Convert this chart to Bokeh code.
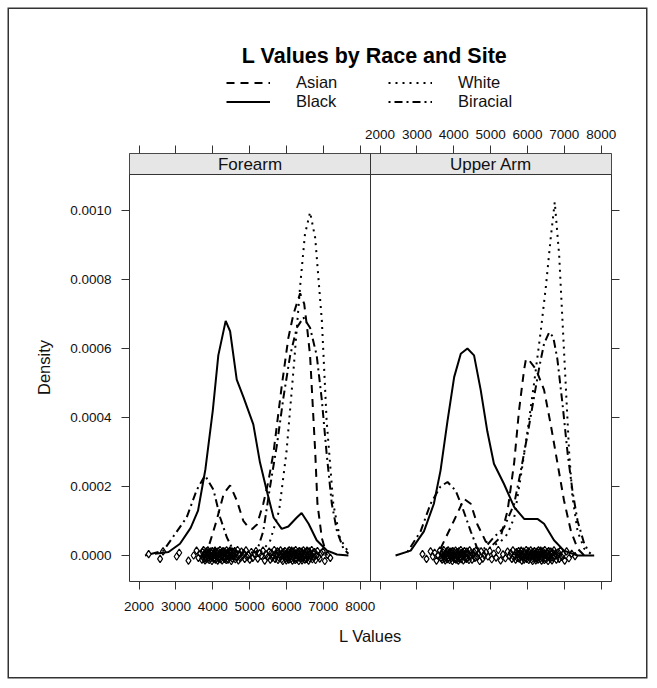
from bokeh.plotting import figure
from bokeh.layouts import column
from bokeh.models import (Range1d, LinearAxis, FixedTicker, Span, Legend, LegendItem,
                          ColumnDataSource, Label)
from bokeh.embed import file_html
from bokeh.resources import INLINE

FONT = "Liberation Sans"
NAN = float("nan")

# ---------------- data ----------------
SITES = ["Forearm", "Upper Arm"]
RACES = ["Asian", "Black", "White", "Biracial"]
X_TICKS = [2000, 3000, 4000, 5000, 6000, 7000, 8000]
Y_TICKS = [0.0, 0.0002, 0.0004, 0.0006, 0.0008, 0.0010]
Y_TICK_LABELS = ["0.0000", "0.0002", "0.0004", "0.0006", "0.0008", "0.0010"]

# Forearm density curves
FA_ASIAN_X = [3700, 3900, 4100, 4300, 4470, 4650, 4830, 4980, 5070, 5200, 5370, 5500, 5650, 5870,
              6050, 6190, 6370, 6480, 6560, 6640, 6710, 6780, 6840, 6960, 7100]
FA_ASIAN_Y = [0.0, 0.00003, 0.0001, 0.00018, 0.000203, 0.00016, 0.0001, 0.00008, 0.000077, 0.00009,
              0.00015, 0.00021, 0.0003, 0.00049, 0.00063, 0.0007, 0.00076, 0.00073, 0.00066, 0.00058,
              0.00044, 0.0003, 0.00015, 0.00005, 0.0]
FA_BLACK_X = [2430, 2800, 3110, 3400, 3600, 3800, 4000, 4150, 4350, 4470, 4650, 4830, 5100, 5280,
              5460, 5650, 5870, 6050, 6280, 6410, 6600, 6820, 7090, 7370, 7680]
FA_BLACK_Y = [0.000005, 0.00001, 0.000034, 0.00008, 0.00013, 0.00025, 0.00042, 0.00058, 0.00068,
              0.00065, 0.00051, 0.00046, 0.00038, 0.00027, 0.00019, 0.00011, 0.000077, 0.000084,
              0.00011, 0.000123, 0.000092, 0.000044, 0.000015, 0.000003, 0.0]
FA_WHITE_X = [5300, 5550, 5800, 6000, 6200, 6370, 6500, 6640, 6780, 6960, 7090, 7270, 7450, 7680]
FA_WHITE_Y = [0.00001, 0.00004, 0.00013, 0.0003, 0.00055, 0.00078, 0.00093, 0.000995, 0.00092,
              0.00068, 0.00039, 0.00015, 0.00005, 0.00001]
FA_BIRACIAL_X = [2160, 2660, 3290, 3565, 3790, 4020, 4200, 4380, 4560, 4900, 5190, 5370, 5555, 5740,
                 5920, 6100, 6280, 6460, 6640, 6820, 6960, 7090, 7230, 7370, 7545, 7680]
FA_BIRACIAL_Y = [0.0, 0.000014, 0.00011, 0.00019, 0.000232, 0.00019, 0.00011, 0.000053, 0.000014,
                 0.000008, 0.00001, 0.00007, 0.0002, 0.00032, 0.00046, 0.00058, 0.00066, 0.00069,
                 0.00066, 0.00058, 0.00045, 0.000295, 0.00015, 0.00007, 0.00002, 0.000005]

# Upper arm density curves
UA_ASIAN_X = [3640, 4000, 4280, 4460, 4640, 4870, 5050, 5270, 5460, 5640, 5770, 5910, 5960, 6050,
              6230, 6450, 6630, 6810, 6990, 7180, 7360, 7540]
UA_ASIAN_Y = [0.00002, 0.0001, 0.000164, 0.00015, 0.00009, 0.00004, 0.00003, 0.000053, 0.00013,
              0.00027, 0.00042, 0.00054, 0.00057, 0.000565, 0.00054, 0.00048, 0.00038, 0.00027,
              0.00016, 0.00007, 0.00002, 0.0]
UA_BLACK_X = [2420, 2830, 3190, 3460, 3640, 3830, 4010, 4190, 4370, 4550, 4730, 4910, 5090, 5360,
              5640, 5910, 6270, 6450, 6720, 6990, 7360, 7810]
UA_BLACK_Y = [0.0, 0.000014, 0.00007, 0.00015, 0.000246, 0.00039, 0.000517, 0.000585, 0.0006,
              0.00058, 0.00048, 0.00036, 0.000266, 0.000208, 0.00014, 0.000106, 0.000106, 0.000092,
              0.000044, 0.000014, 0.0, 0.0]
UA_WHITE_X = [4800, 5000, 5270, 5460, 5640, 5820, 6000, 6180, 6360, 6500, 6630, 6740, 6860, 6950,
              7040, 7130, 7220, 7360, 7540, 7720]
UA_WHITE_Y = [0.00001, 0.000024, 0.00004, 0.000063, 0.00011, 0.00023, 0.00036, 0.0005, 0.00065,
              0.00078, 0.00092, 0.001024, 0.00087, 0.00068, 0.00049, 0.0003, 0.00017, 0.00007,
              0.00002, 0.000005]
UA_BIRACIAL_X = [2740, 3100, 3370, 3640, 3830, 4050, 4230, 4460, 4640, 4820, 5090, 5360, 5640,
                 5820, 6000, 6180, 6320, 6450, 6590, 6700, 6810, 6950, 7090, 7220, 7360, 7540, 7670]
UA_BIRACIAL_Y = [0.00001, 0.00007, 0.00015, 0.0002, 0.000213, 0.000188, 0.00014, 0.00007, 0.00002,
                 0.00002, 0.000053, 0.00008, 0.00015, 0.000246, 0.00035, 0.00046, 0.000546,
                 0.000614, 0.000647, 0.000633, 0.00057, 0.00044, 0.000295, 0.000188, 0.0001,
                 0.000034, 0.00001]

# raw L values shown as points along the baseline
FA_RUG_X = [2260, 2570, 2650, 3020, 3090, 3340, 3480, 3560, 3610, 3660,
            3705, 3722, 3731, 3748, 3760, 3771, 3789, 3798, 3812, 3827, 3835, 3851, 3866, 3874,
            3889, 3902, 3911, 3925, 3940, 3948, 3963, 3977, 3986, 4001, 4013, 4024, 4038, 4049,
            4061, 4073, 4085, 4097, 4108, 4122, 4133, 4146, 4157, 4169, 4182, 4194, 4205, 4219,
            4230, 4242, 4255, 4266, 4279, 4291, 4302, 4316, 4327, 4339, 4352, 4364, 4375, 4389,
            4400, 4413, 4425, 4438, 4450, 4463, 4476, 4489, 4503, 4517, 4530, 4546, 4561, 4577,
            4594, 4612, 4630, 4651, 4672, 4695,
            4720, 4748, 4779, 4805, 4838, 4866, 4901, 4933, 4970, 5004, 5047, 5085, 5130, 5172,
            5221, 5268, 5316, 5362, 5410, 5455, 5498,
            5530, 5561, 5590, 5617, 5642, 5668, 5690, 5712, 5733, 5752, 5770, 5789, 5806, 5822,
            5839, 5854, 5870, 5885, 5899, 5914, 5928, 5941, 5956, 5969, 5983, 5996, 6010, 6023,
            6036, 6049, 6061, 6074, 6087, 6099, 6112, 6124, 6137, 6149, 6161, 6174, 6186, 6198,
            6211, 6223, 6235, 6248, 6260, 6272, 6285, 6297, 6309, 6322, 6334, 6346, 6359, 6371,
            6384, 6396, 6409, 6421, 6434, 6447, 6460, 6473, 6486, 6500, 6513, 6527, 6541, 6556,
            6570, 6585, 6600, 6616, 6632, 6649, 6666, 6684, 6703, 6722, 6743, 6765, 6788, 6813,
            6840, 6870, 6903, 6940, 6985, 7040, 7110, 7190]
UA_RUG_X = [3150, 3260, 3370, 3430, 3480, 3530, 3580, 3620,
            3652, 3668, 3683, 3697, 3712, 3726, 3741, 3755, 3768, 3782, 3795, 3809, 3822, 3835,
            3847, 3860, 3873, 3886, 3898, 3911, 3923, 3936, 3948, 3961, 3973, 3986, 3998, 4011,
            4023, 4036, 4048, 4061, 4073, 4086, 4098, 4111, 4124, 4137, 4150, 4163, 4176, 4190,
            4203, 4217, 4231, 4245, 4260, 4275, 4290, 4306, 4322, 4338, 4355, 4373, 4391, 4410,
            4430, 4451, 4473, 4496, 4520, 4546, 4573, 4602, 4633, 4667,
            4703, 4742, 4785, 4829, 4876, 4925, 4977, 5031, 5088, 5147, 5208, 5271, 5335, 5400,
            5460,
            5512, 5545, 5576, 5604, 5630, 5655, 5678, 5700, 5721, 5741, 5760, 5778, 5796, 5813,
            5830, 5846, 5862, 5878, 5893, 5908, 5923, 5938, 5952, 5966, 5980, 5994, 6008, 6021,
            6035, 6048, 6061, 6074, 6087, 6100, 6113, 6126, 6138, 6151, 6163, 6176, 6188, 6200,
            6213, 6225, 6237, 6249, 6261, 6273, 6286, 6298, 6310, 6322, 6334, 6346, 6358, 6370,
            6382, 6395, 6407, 6419, 6431, 6444, 6456, 6469, 6481, 6494, 6507, 6520, 6533, 6546,
            6560, 6574, 6588, 6603, 6618, 6633, 6649, 6666, 6683, 6701, 6720, 6740, 6761, 6784,
            6808, 6834, 6862, 6893, 6927, 6966, 7010, 7062, 7125, 7200, 7290]
# vertical jitter of the baseline points (units of 1e-6 density)
RUG_JITTER = [4, -10, 12, -3, 8, -15, 0, 14, -7, 5, -12, 10, -2, 16, -9, 3, -14, 7, -5, 12,
              -11, 1, 15, -6, 9, -13, 4, -1, 11, -8, 6, -16, 13, -4, 2, -10, 8, -7, 14, -12,
              0, 10, -3, 6, -15, 12, -9, 3, -5, 16, -11, 7, -2, 9, -14, 1, 13, -6, 5, -10,
              11, -8, 4, -13, 15, -1, 8, -12, 2, 10, -7, 14, -4, 6, -16, 12, -9, 0, 9, -3,
              13, -11, 5, -6, 16, -14, 3, -8, 11, -2, 7, -10, 15, -5, 1, -12, 10, -7, 4, 13,
              -9, 6, -1, 14, -15, 3, -4, 11, -12, 8, -6, 0, 16, -10, 5, -2, 12, -13, 9, -8,
              2, 15, -3, -11, 7, -16, 10, 1, -5, 13, -9, 4, -14, 6, -7, 11, 0, -12, 15, -4,
              8, -1, -10, 14, 3, -15, 9, -6, 12, -2, 5, -13, 16, -8, 1, -11, 7, 10, -3, -16,
              13, -5, 2, -9, 11, 4, -14, 8, -7, 15, -1, 6, -12, 0, 9, -10, 14, -4, 3, -15,
              12, -8, 5, -2, 16, -11, 7, -6, 10, -13, 1, 13, -3, -9, 6, 11, -16, 2, -7, 8]

CURVES = {
    "Forearm": {"Asian": (FA_ASIAN_X, FA_ASIAN_Y), "Black": (FA_BLACK_X, FA_BLACK_Y),
                "White": (FA_WHITE_X, FA_WHITE_Y), "Biracial": (FA_BIRACIAL_X, FA_BIRACIAL_Y)},
    "Upper Arm": {"Asian": (UA_ASIAN_X, UA_ASIAN_Y), "Black": (UA_BLACK_X, UA_BLACK_Y),
                  "White": (UA_WHITE_X, UA_WHITE_Y), "Biracial": (UA_BIRACIAL_X, UA_BIRACIAL_Y)},
}
RUGS = {"Forearm": FA_RUG_X, "Upper Arm": UA_RUG_X}
DASH = {"Asian": "8 6", "Black": "solid", "White": "2 5", "Biracial": "2 4 8 4"}

# ---------------- layout ----------------
W = 637
H_HEAD = 109
H_MAIN = 559
B_LEFT, B_RIGHT, B_TOP, B_BOTTOM = 120, 35, 35, 96
FW, FH = W - B_LEFT - B_RIGHT, H_MAIN - B_TOP - B_BOTTOM
X_MIN, X_MAX = 1740, 8280
SPAN = X_MAX - X_MIN
Y_MIN, Y_PANEL_TOP, Y_MAX = -0.0000754, 0.0011043, 0.0011652

# ---------- header: title + legend (its frame is aligned with the panel frame) ----------
head = figure(width=W, height=H_HEAD, output_backend="svg", toolbar_location=None,
              x_range=Range1d(0, FW), y_range=Range1d(0, H_HEAD),
              x_axis_location=None, y_axis_location=None,
              min_border_left=B_LEFT, min_border_right=B_RIGHT,
              min_border_top=0, min_border_bottom=0)
head.grid.visible = False
head.outline_line_color = None
head.background_fill_color = "white"
head.border_fill_color = "white"

head.add_layout(Label(x=245, y=H_HEAD - 46, text="L Values by Race and Site",
                      text_align="center", text_baseline="middle", text_font=FONT,
                      text_font_size="21.5px", text_font_style="bold", text_color="black"))

key_renderers = {}
for race in RACES:
    key_renderers[race] = head.line(x=[NAN], y=[NAN], line_color="black", line_width=2,
                                    line_dash=DASH[race])


def make_legend(items, x, y):
    lg = Legend(items=[LegendItem(label=r, renderers=[key_renderers[r]]) for r in items],
                location=(x, y), orientation="vertical",
                glyph_width=44, glyph_height=17, label_standoff=26,
                label_text_font=FONT, label_text_font_size="16.5px", label_text_color="#111111",
                label_height=17, spacing=0, padding=0, margin=0, border_line_color=None,
                background_fill_color=None, background_fill_alpha=0)
    head.add_layout(lg, "center")


make_legend(["Asian", "Black"], 97, 7)
make_legend(["White", "Biracial"], 259, 7)

# ---------- main lattice panels ----------
p = figure(width=W, height=H_MAIN, output_backend="svg", toolbar_location=None,
           x_range=Range1d(X_MIN, X_MIN + 2 * SPAN), y_range=Range1d(Y_MIN, Y_MAX),
           x_axis_location=None, y_axis_location=None,
           min_border_left=B_LEFT, min_border_right=B_RIGHT,
           min_border_top=B_TOP, min_border_bottom=B_BOTTOM)
p.grid.visible = False
p.outline_line_color = "#333333"
p.outline_line_width = 1
p.background_fill_color = "white"
p.border_fill_color = "white"

all_x_ticks = X_TICKS + [t + SPAN for t in X_TICKS]


def style_axis(ax):
    ax.axis_line_color = None
    ax.major_tick_out = 8
    ax.major_tick_in = 0
    ax.minor_tick_out = 0
    ax.minor_tick_in = 0
    ax.major_tick_line_color = "#333333"
    ax.major_label_text_font = FONT
    ax.major_label_text_font_size = "13.5px"
    ax.major_label_text_color = "#111111"
    ax.axis_label_text_font = FONT
    ax.axis_label_text_font_size = "16.5px"
    ax.axis_label_text_font_style = "normal"
    ax.axis_label_text_color = "#111111"


bottom = LinearAxis(ticker=FixedTicker(ticks=all_x_ticks), axis_label="L Values")
style_axis(bottom)
bottom.major_label_standoff = 12
bottom.axis_label_standoff = 13
bottom.major_label_overrides = {**{t: str(t) for t in X_TICKS}, **{t + SPAN: "" for t in X_TICKS}}
p.add_layout(bottom, "below")

top = LinearAxis(ticker=FixedTicker(ticks=all_x_ticks))
style_axis(top)
top.major_label_standoff = 7
top.major_label_overrides = {**{t: "" for t in X_TICKS}, **{t + SPAN: str(t) for t in X_TICKS}}
p.add_layout(top, "above")

left = LinearAxis(ticker=FixedTicker(ticks=Y_TICKS), axis_label="Density")
style_axis(left)
left.major_label_standoff = 10
left.axis_label_standoff = 14
left.major_label_overrides = dict(zip(Y_TICKS, Y_TICK_LABELS))
p.add_layout(left, "left")

right = LinearAxis(ticker=FixedTicker(ticks=Y_TICKS))
style_axis(right)
right.major_label_overrides = {t: "" for t in Y_TICKS}
right.major_label_text_font_size = "0px"
right.major_label_standoff = 0
p.add_layout(right, "right")

# strips
strip_src = ColumnDataSource(dict(
    left=[X_MIN + i * SPAN for i in range(len(SITES))],
    right=[X_MAX + i * SPAN for i in range(len(SITES))],
    bottom=[Y_PANEL_TOP] * len(SITES), top=[Y_MAX] * len(SITES),
    cx=[X_MIN + SPAN / 2 + i * SPAN for i in range(len(SITES))],
    cy=[(Y_PANEL_TOP + Y_MAX) / 2] * len(SITES), label=SITES))
p.quad(left="left", right="right", bottom="bottom", top="top", source=strip_src,
       fill_color="#e6e6e6", line_color="#333333", line_width=1)
p.text(x="cx", y="cy", text="label", source=strip_src, text_align="center",
       text_baseline="middle", text_font={"value": FONT}, text_font_size={"value": "17px"},
       text_color="#111111")

# panel divider
p.add_layout(Span(location=X_MAX, dimension="height", line_color="#333333", line_width=1))

for i, site in enumerate(SITES):
    off = i * SPAN
    for race in RACES:
        xs, ys = CURVES[site][race]
        p.line([x + off for x in xs], ys, line_color="black", line_width=2,
               line_dash=DASH[race])
    rx = RUGS[site]
    p.scatter([x + off for x in rx], [j * 1e-6 for j in RUG_JITTER[:len(rx)]],
              marker="diamond", size=7.5, fill_color=None, line_color="black", line_width=1.2)

layout = column(head, p, spacing=0,
                styles={"margin": "9px 0 0 9px", "box-shadow": "0 0 0 1.5px #333333"})

open("out.html", "w").write(file_html(layout, INLINE))
